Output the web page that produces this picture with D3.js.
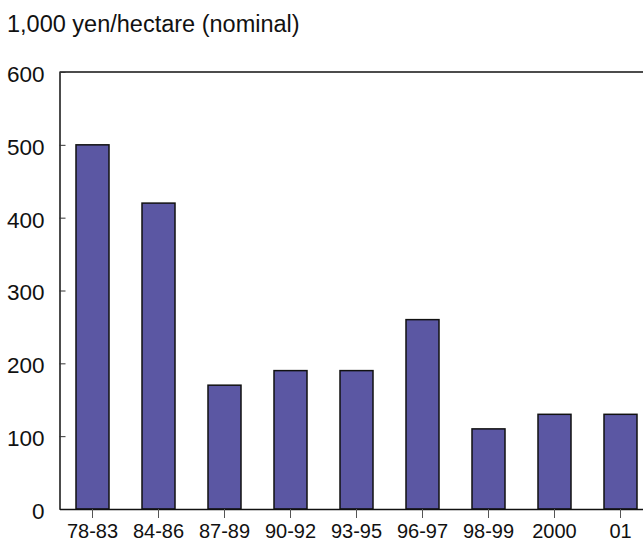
<!DOCTYPE html>
<html lang="en">
<head>
    <meta charset="UTF-8">
    <script src="https://d3js.org/d3.v7.min.js"></script>
    <style>
        body { margin: 0; background: #fff; }
        text { font-family: "Liberation Sans", Arial, sans-serif; }
    </style>
    <title>Yen per hectare</title>
</head>
<body>
    <script type="text/javascript">
    // data
    const periods = ["78-83", "84-86", "87-89", "90-92", "93-95", "96-97", "98-99", "2000", "01"];
    const values = [500, 420, 170, 190, 190, 260, 110, 130, 130];
    const yTicks = [0, 100, 200, 300, 400, 500, 600];
    const unitLabel = "1,000 yen/hectare (nominal)";

    const w = 643;
    const h = 541;
    const plotLeft = 59.5, plotRight = 653.5, plotTop = 72, plotBottom = 509;

    const x = d3.scaleBand(periods, [plotLeft, plotRight])
        .paddingInner(0.5)
        .paddingOuter(0.25);
    const y = d3.scaleLinear([0, 600], [plotBottom, plotTop]);

    const svg = d3.select("body")
        .append("svg")
        .attr("width", w)
        .attr("height", h);

    svg.append("text")
        .attr("x", 7)
        .attr("y", 32)
        .attr("font-size", "23.5px")
        .attr("fill", "#111")
        .text(unitLabel);

    // bars
    svg.selectAll("rect.bar")
        .data(values)
        .enter()
        .append("rect")
        .attr("class", "bar")
        .attr("x", (d, i) => x(periods[i]))
        .attr("y", d => y(d))
        .attr("width", x.bandwidth())
        .attr("height", d => plotBottom - y(d))
        .attr("fill", "#5b57a3")
        .attr("stroke", "#111")
        .attr("stroke-width", 1.5);

    // frame top line
    svg.append("line")
        .attr("x1", plotLeft).attr("x2", w)
        .attr("y1", plotTop).attr("y2", plotTop)
        .attr("stroke", "#111")
        .attr("stroke-width", 1.5);

    // y axis, ticks pointing inward
    const yAxis = svg.append("g")
        .attr("transform", `translate(${plotLeft},0)`)
        .call(d3.axisRight(y).tickValues(yTicks).tickSize(6).tickSizeOuter(0).tickFormat(d3.format("d")));
    yAxis.attr("font-size", null).attr("font-family", null);
    yAxis.select(".domain").attr("stroke", "#111").attr("stroke-width", 1.5);
    yAxis.selectAll(".tick line").attr("stroke", "#333");
    yAxis.selectAll(".tick text")
        .attr("x", -15)
        .attr("dy", "0.42em")
        .attr("text-anchor", "end")
        .attr("font-size", "22.5px")
        .attr("fill", "#111");

    // x axis
    const xAxis = svg.append("g")
        .attr("transform", `translate(0,${plotBottom})`)
        .call(d3.axisBottom(x).tickSize(9).tickSizeOuter(0));
    xAxis.attr("font-size", null).attr("font-family", null);
    xAxis.select(".domain").attr("stroke", "#111").attr("stroke-width", 1.5);
    xAxis.selectAll(".tick line").attr("stroke", "#555");
    xAxis.selectAll(".tick text")
        .attr("y", 15)
        .attr("font-size", "20px")
        .attr("fill", "#111");
    </script>
</body>
</html>
